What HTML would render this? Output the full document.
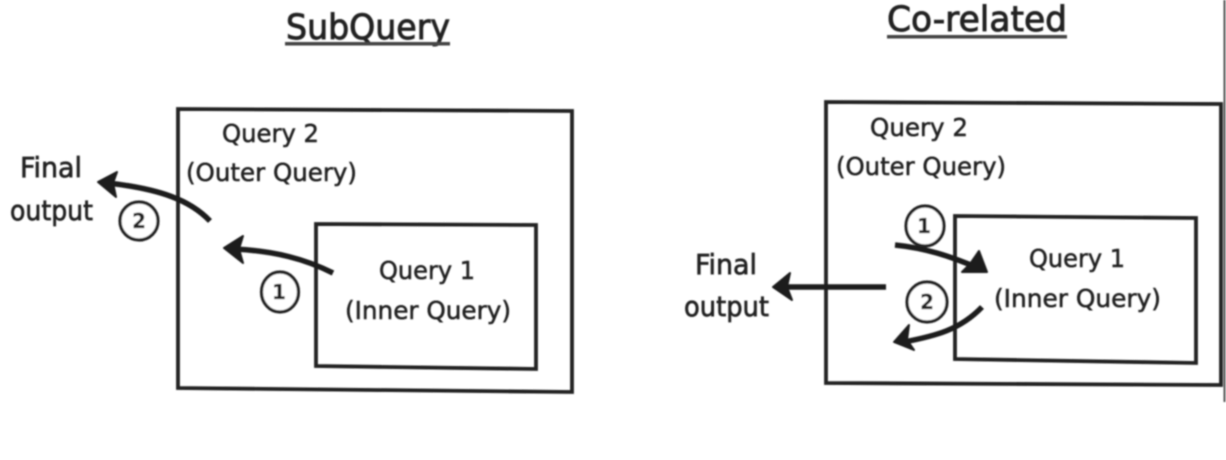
<!DOCTYPE html>
<html><head><meta charset="utf-8"><style>
html,body{margin:0;padding:0;background:#fff;width:1226px;height:460px;overflow:hidden}
svg{display:block}
text{font-family:"DejaVu Sans","Liberation Sans",sans-serif;fill:#222;stroke:#222;stroke-width:.55;font-size:25px}
.t{font-size:35px;stroke-width:.9}
.f{font-size:28px;stroke-width:.7}
.b{fill:none;stroke:#222;stroke-width:3.8}
.a{fill:none;stroke:#1c1c1c;stroke-width:5.5;stroke-linecap:butt}
.h{fill:#1c1c1c;stroke:#1c1c1c;stroke-width:2;stroke-linejoin:round}
.c{fill:#fff;stroke:#222;stroke-width:3.2}
.n{font-size:20px;font-weight:bold;stroke-width:.2}
</style></head><body>
<svg width="1226" height="460" viewBox="0 0 1226 460" xmlns="http://www.w3.org/2000/svg">
<defs><filter id="s" x="-5%" y="-5%" width="110%" height="110%"><feGaussianBlur stdDeviation="0.7"/></filter></defs>
<rect width="1226" height="460" fill="#fff"/>
<g filter="url(#s)">
<line x1="1224.5" y1="0" x2="1224.5" y2="402" stroke="#555" stroke-width="2"/>

<text class="t" x="286" y="39" textLength="164" lengthAdjust="spacingAndGlyphs">SubQuery</text>
<rect x="285" y="42" width="165" height="3.5" fill="#444"/>
<text class="t" x="887" y="31" textLength="180" lengthAdjust="spacingAndGlyphs">Co-related</text>
<rect x="887" y="35" width="180" height="3.5" fill="#444"/>

<!-- Left -->
<path class="b" d="M178 109 L572 111 L572 392 L178 388 Z"/>
<path class="b" d="M316 224 L536 225 L536 369 L316 366 Z"/>
<text x="222" y="142" textLength="97" lengthAdjust="spacingAndGlyphs">Query 2</text>
<text x="186" y="181" textLength="171" lengthAdjust="spacingAndGlyphs">(Outer Query)</text>
<text x="379" y="279" textLength="96" lengthAdjust="spacingAndGlyphs">Query 1</text>
<text x="345" y="319" textLength="166" lengthAdjust="spacingAndGlyphs">(Inner Query)</text>
<text class="f" x="20" y="177" textLength="62" lengthAdjust="spacingAndGlyphs">Final</text>
<text class="f" x="10" y="220" textLength="83" lengthAdjust="spacingAndGlyphs">output</text>
<path class="a" d="M210 221 C190 200 160 189 108 183"/>
<path class="h" d="M98 182 L117 172 L113 183 L116 197 Z"/>
<path class="a" d="M333 273 C305 259 275 251 234 249"/>
<path class="h" d="M224 248 L243 236 L239 249 L243 263 Z"/>
<circle class="c" cx="139" cy="221" r="19"/>
<text class="n" x="139" y="228" text-anchor="middle">2</text>
<ellipse class="c" cx="280" cy="292" rx="18.5" ry="20"/>
<text class="n" x="279" y="299" text-anchor="middle">1</text>

<!-- Right -->
<path class="b" d="M826 102 L1221 104 L1221 385 L826 383 Z"/>
<path class="b" d="M955 216 L1196 218 L1196 363 L955 359 Z"/>
<text x="870" y="136" textLength="98" lengthAdjust="spacingAndGlyphs">Query 2</text>
<text x="836" y="175" textLength="170" lengthAdjust="spacingAndGlyphs">(Outer Query)</text>
<text x="1029" y="267" textLength="96" lengthAdjust="spacingAndGlyphs">Query 1</text>
<text x="994" y="307" textLength="167" lengthAdjust="spacingAndGlyphs">(Inner Query)</text>
<text class="f" x="695" y="274" textLength="62" lengthAdjust="spacingAndGlyphs">Final</text>
<text class="f" x="684" y="316" textLength="85" lengthAdjust="spacingAndGlyphs">output</text>
<path class="a" d="M895 245 C925 248 950 256 978 268"/>
<path class="h" d="M987 272 L962 272 L970 264 L979 251 Z"/>
<path class="a" d="M886 287 L785 287"/>
<path class="h" d="M773 287 L790 273 L787 287 L792 300 Z"/>
<path class="a" d="M982 307 C960 330 935 336 904 342"/>
<path class="h" d="M894 342 L909 325 L907 340 L914 350 Z"/>
<ellipse class="c" cx="925" cy="226" rx="19" ry="20"/>
<text class="n" x="924" y="233" text-anchor="middle">1</text>
<circle class="c" cx="927" cy="302" r="20"/>
<text class="n" x="927" y="309" text-anchor="middle">2</text>
</g>
</svg>
</body></html>
